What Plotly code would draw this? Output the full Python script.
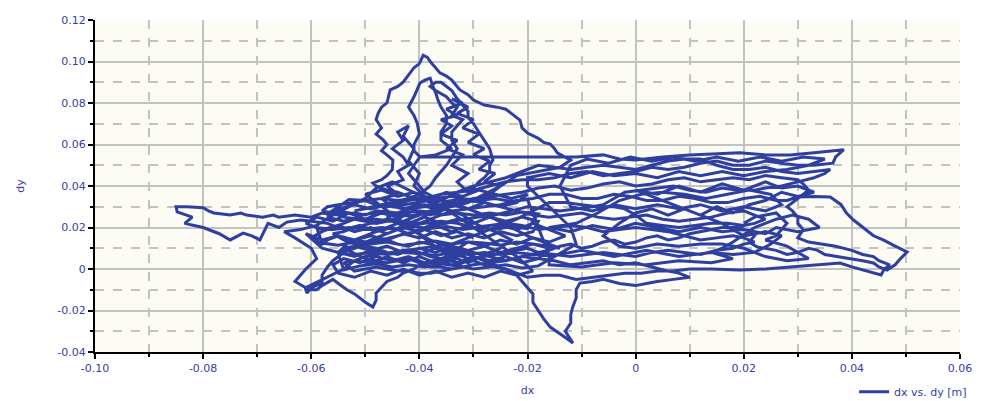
import plotly.graph_objects as go

# Trajectory, in metres, as (dx, dy) pairs, segment by segment.
seg_left_tail = [
 (-0.030,0.015),(-0.033,0.018),(-0.036,0.016),(-0.039,0.019),(-0.042,0.017),(-0.045,0.020),(-0.048,0.018),
 (-0.051,0.021),(-0.054,0.019),(-0.057,0.022),(-0.060,0.023),(-0.062,0.0236),(-0.0645,0.0226),(-0.066,0.020),
 (-0.068,0.022),(-0.0695,0.014),(-0.071,0.016),(-0.0726,0.0173),(-0.075,0.014),(-0.077,0.017),(-0.080,0.020),
 (-0.082,0.021),(-0.0834,0.022),(-0.082,0.025),(-0.0848,0.0275),(-0.085,0.030),(-0.083,0.030),(-0.080,0.0295),
 (-0.079,0.028),(-0.078,0.027),(-0.076,0.0265),(-0.075,0.026),(-0.073,0.027),(-0.072,0.026),(-0.069,0.025),
 (-0.067,0.026),(-0.066,0.025),(-0.063,0.026),(-0.060,0.025),(-0.058,0.027),(-0.056,0.026),(-0.052,0.027),
 (-0.050,0.026),(-0.048,0.028),(-0.044,0.027),(-0.040,0.028),(-0.036,0.027),
]
seg_peak_outer = [
 (-0.038,0.032),(-0.040,0.034),(-0.042,0.035),(-0.044,0.037),(-0.046,0.038),(-0.048,0.040),(-0.0486,0.0414),
 (-0.047,0.043),(-0.046,0.045),(-0.045,0.048),(-0.0449,0.0525),(-0.046,0.055),(-0.047,0.057),(-0.046,0.060),
 (-0.0467,0.0622),(-0.048,0.065),(-0.047,0.068),(-0.048,0.072),(-0.0476,0.0752),(-0.047,0.078),(-0.046,0.080),
 (-0.0454,0.0863),(-0.044,0.088),(-0.043,0.090),(-0.0417,0.0945),(-0.041,0.097),(-0.040,0.099),(-0.0393,0.103),
 (-0.0385,0.102),(-0.038,0.100),(-0.037,0.097),(-0.0362,0.0945),(-0.035,0.093),(-0.034,0.091),(-0.0325,0.0863),
 (-0.031,0.084),(-0.030,0.0814),(-0.028,0.079),(-0.0256,0.078),(-0.024,0.077),(-0.023,0.075),(-0.0214,0.0718),
 (-0.021,0.068),(-0.020,0.0655),(-0.018,0.063),(-0.017,0.061),(-0.0158,0.0602),(-0.015,0.058),(-0.0145,0.056),
 (-0.013,0.054),(-0.012,0.0525),(-0.014,0.049),(-0.016,0.048),(-0.018,0.047),(-0.020,0.046),(-0.022,0.045),
 (-0.025,0.040),(-0.028,0.036),(-0.031,0.032),(-0.034,0.030),
]
seg_peak_inner = [
 (-0.037,0.034),(-0.039,0.037),(-0.040,0.040),(-0.041,0.043),(-0.042,0.046),(-0.041,0.050),(-0.0399,0.054),
 (-0.041,0.057),(-0.041,0.060),(-0.040,0.065),(-0.0404,0.0703),(-0.041,0.074),(-0.042,0.078),(-0.041,0.083),
 (-0.0399,0.0896),(-0.039,0.091),(-0.038,0.092),(-0.0375,0.088),(-0.037,0.085),(-0.0365,0.081),(-0.036,0.078),
 (-0.035,0.074),(-0.035,0.070),(-0.036,0.066),(-0.036,0.062),(-0.035,0.060),(-0.034,0.058),(-0.037,0.055),
 (-0.040,0.054),(-0.033,0.054),(-0.025,0.054),(-0.018,0.054),(-0.011,0.054),(-0.006,0.055),(-0.003,0.053),
 (0.000,0.0525),(0.005,0.054),(0.010,0.055),(0.015,0.0555),(0.0193,0.056),(0.024,0.055),(0.0286,0.055),
 (0.033,0.056),(0.036,0.057),(0.0385,0.0575),(0.037,0.054),(0.0365,0.051),(0.033,0.050),(0.030,0.050),
 (0.027,0.051),(0.024,0.052),(0.021,0.050),(0.018,0.050),(0.015,0.052),(0.012,0.051),(0.009,0.049),
 (0.006,0.048),(0.003,0.049),(0.000,0.047),(-0.003,0.046),(-0.006,0.045),(-0.009,0.047),(-0.012,0.046),
 (-0.015,0.044),(-0.018,0.043),(-0.021,0.043),(-0.024,0.042),(-0.027,0.040),(-0.030,0.038),(-0.033,0.037),
 (-0.036,0.036),(-0.039,0.034),(-0.042,0.033),(-0.045,0.031),(-0.048,0.030),(-0.052,0.028),
]
seg_peak_middle = [
 (-0.045,0.032),(-0.042,0.034),(-0.040,0.036),(-0.038,0.040),(-0.037,0.044),(-0.036,0.047),(-0.035,0.050),
 (-0.034,0.054),(-0.033,0.058),(-0.034,0.062),(-0.034,0.066),(-0.033,0.069),(-0.032,0.072),(-0.034,0.074),
 (-0.033,0.078),(-0.034,0.080),(-0.035,0.083),(-0.037,0.086),(-0.038,0.088),(-0.037,0.090),(-0.036,0.090),
 (-0.034,0.086),(-0.033,0.082),(-0.032,0.079),(-0.031,0.076),(-0.031,0.073),(-0.030,0.070),(-0.029,0.066),
 (-0.028,0.062),(-0.027,0.058),(-0.0264,0.0525),(-0.027,0.050),(-0.027,0.047),(-0.028,0.044),(-0.029,0.042),
 (-0.030,0.039),(-0.031,0.037),
]
seg_peak_dense = [
 (-0.033,0.042),(-0.031,0.046),(-0.034,0.050),(-0.032,0.055),(-0.035,0.058),(-0.033,0.062),(-0.036,0.065),
 (-0.034,0.069),(-0.036,0.072),(-0.033,0.074),(-0.035,0.077),(-0.032,0.080),(-0.034,0.082),(-0.031,0.078),
 (-0.033,0.075),(-0.030,0.072),(-0.032,0.068),(-0.029,0.065),(-0.031,0.061),(-0.028,0.058),(-0.030,0.055),
 (-0.027,0.052),(-0.029,0.048),(-0.026,0.046),(-0.028,0.042),(-0.025,0.040),(-0.027,0.036),
 (-0.030,0.033),(-0.033,0.031),(-0.036,0.029),(-0.039,0.031),(-0.042,0.029),(-0.045,0.030),(-0.047,0.034),
 (-0.044,0.036),(-0.046,0.040),(-0.043,0.043),(-0.044,0.047),(-0.042,0.050),(-0.043,0.054),(-0.045,0.058),
 (-0.043,0.062),(-0.044,0.066),(-0.042,0.069),(-0.043,0.064),(-0.041,0.058),(-0.042,0.052),(-0.040,0.046),
 (-0.041,0.040),(-0.039,0.035),(-0.041,0.031),
]
seg_lower_left = [
 (-0.035,0.030),(-0.038,0.027),(-0.040,0.024),(-0.043,0.021),(-0.045,0.018),(-0.048,0.015),(-0.050,0.012),
 (-0.052,0.010),(-0.054,0.008),(-0.056,0.004),(-0.057,0.001),(-0.058,-0.003),(-0.058,-0.0068),(-0.060,-0.009),
 (-0.0608,-0.0116),(-0.061,-0.010),(-0.059,-0.010),(-0.058,-0.008),(-0.056,-0.005),(-0.055,-0.007),
 (-0.0534,-0.010),(-0.052,-0.012),(-0.051,-0.014),(-0.050,-0.016),(-0.0486,-0.0183),(-0.048,-0.015),
 (-0.048,-0.0116),(-0.047,-0.009),(-0.046,-0.006),(-0.044,-0.004),(-0.043,-0.002),(-0.041,0.000),
 (-0.040,0.002),(-0.038,0.003),(-0.036,0.004),(-0.034,0.002),(-0.032,0.003),(-0.030,0.005),(-0.028,0.006),
]
seg_right_lobe = [
 (-0.024,0.008),(-0.022,0.009),(-0.020,0.010),(-0.018,0.008),(-0.016,0.009),(-0.014,0.011),(-0.012,0.012),
 (-0.010,0.010),(-0.008,0.011),(-0.006,0.013),(-0.004,0.014),(-0.002,0.012),(0.000,0.013),(0.002,0.015),
 (0.004,0.016),(0.006,0.014),(0.008,0.015),(0.010,0.017),(0.012,0.018),(0.014,0.019),(0.016,0.020),
 (0.0193,0.020),(0.021,0.018),(0.022,0.016),(0.021,0.013),(0.0225,0.0106),(0.024,0.010),(0.026,0.009),
 (0.028,0.007),(0.030,0.008),(0.032,0.010),(0.0336,0.0091),(0.035,0.007),(0.0378,0.0058),(0.040,0.005),
 (0.042,0.004),(0.044,0.0029),(0.045,0.001),(0.0465,-0.0005),(0.048,0.002),(0.049,0.005),(0.0502,0.0082),
 (0.048,0.011),(0.0458,0.0140),(0.044,0.016),(0.042,0.020),(0.0403,0.0236),(0.039,0.027),(0.038,0.031),
 (0.036,0.0347),(0.033,0.035),(0.0299,0.0347),(0.028,0.033),(0.026,0.033),(0.023,0.035),(0.020,0.034),
 (0.017,0.032),(0.014,0.032),(0.011,0.034),(0.008,0.035),(0.005,0.033),(0.002,0.033),(-0.001,0.035),
 (-0.004,0.036),(-0.007,0.034),(-0.010,0.034),(-0.013,0.036),(-0.016,0.036),(-0.019,0.034),(-0.022,0.033),
 (-0.025,0.031),(-0.028,0.030),(-0.031,0.029),(-0.034,0.028),(-0.037,0.025),(-0.040,0.022),(-0.043,0.023),
 (-0.046,0.024),(-0.049,0.022),(-0.052,0.020),(-0.054,0.018),(-0.056,0.017),
]
seg_bottom_band = [
 (-0.054,0.014),(-0.052,0.012),(-0.050,0.011),(-0.048,0.010),(-0.046,0.008),(-0.044,0.007),(-0.042,0.009),
 (-0.040,0.008),(-0.038,0.006),(-0.036,0.005),(-0.034,0.007),(-0.032,0.006),(-0.030,0.004),(-0.028,0.002),
 (-0.026,0.001),(-0.024,0.000),(-0.022,-0.002),(-0.020,-0.004),(-0.017,-0.003),(-0.014,-0.003),(-0.011,-0.005),
 (-0.008,-0.004),(-0.005,-0.003),(-0.002,-0.002),(0.001,-0.002),(0.004,-0.001),(0.007,-0.001),(0.010,0.000),
 (0.014,0.000),(0.0193,-0.0005),(0.024,0.000),(0.0286,0.001),(0.033,0.002),(0.0378,0.0029),(0.040,0.001),
 (0.043,-0.001),(0.0454,-0.0029),(0.046,0.000),(0.047,0.002),(0.045,0.004),(0.044,0.006),(0.042,0.007),
 (0.040,0.009),(0.037,0.011),(0.034,0.012),(0.032,0.013),(0.030,0.015),(0.031,0.019),(0.030,0.022),
 (0.030,0.025),(0.029,0.028),(0.028,0.030),(0.030,0.034),(0.032,0.038),(0.031,0.041),(0.030,0.043),
 (0.027,0.044),(0.024,0.045),(0.021,0.043),(0.018,0.044),(0.015,0.043),(0.012,0.042),(0.009,0.044),
 (0.006,0.043),(0.003,0.041),(0.000,0.040),(-0.003,0.042),(-0.006,0.041),(-0.009,0.039),(-0.012,0.038),
 (-0.015,0.040),(-0.018,0.039),(-0.021,0.037),(-0.024,0.036),(-0.027,0.035),(-0.030,0.034),(-0.033,0.032),
 (-0.036,0.031),(-0.039,0.030),(-0.042,0.029),(-0.044,0.027),(-0.046,0.025),
]
seg_bottom_spike = [
 (-0.044,0.022),(-0.042,0.020),(-0.040,0.017),(-0.038,0.014),(-0.036,0.012),(-0.034,0.010),(-0.032,0.008),
 (-0.030,0.006),(-0.028,0.004),(-0.026,0.002),(-0.024,0.000),(-0.022,-0.003),(-0.021,-0.006),(-0.020,-0.0087),
 (-0.019,-0.012),(-0.019,-0.016),(-0.0177,-0.0213),(-0.017,-0.024),(-0.0158,-0.028),(-0.014,-0.031),
 (-0.013,-0.033),(-0.0116,-0.0357),(-0.012,-0.034),(-0.013,-0.030),(-0.012,-0.026),(-0.012,-0.022),
 (-0.0116,-0.018),(-0.011,-0.014),(-0.011,-0.010),(-0.0103,-0.0068),(-0.008,-0.006),(-0.006,-0.005),
 (-0.003,-0.007),(0.000,-0.008),(0.002,-0.007),(0.004,-0.006),(0.007,-0.005),(0.010,-0.004),(0.008,-0.002),
 (0.006,-0.001),(0.003,0.001),(0.000,0.003),(-0.003,0.002),(-0.006,0.004),(-0.009,0.003),(-0.012,0.002),
 (-0.015,0.004),(-0.018,0.005),(-0.021,0.006),(-0.024,0.004),(-0.027,0.006),(-0.030,0.008),(-0.033,0.009),
 (-0.036,0.010),(-0.038,0.012),(-0.040,0.013),(-0.042,0.011),(-0.044,0.012),(-0.046,0.014),(-0.048,0.015),
 (-0.050,0.013),(-0.052,0.014),(-0.054,0.015),(-0.055,0.016),(-0.057,0.014),(-0.058,0.012),(-0.060,0.015),
]
seg_upper_band = [
 (-0.058,0.018),(-0.056,0.020),(-0.054,0.022),(-0.052,0.024),(-0.050,0.023),(-0.048,0.022),(-0.046,0.023),
 (-0.044,0.024),(-0.042,0.027),(-0.040,0.030),(-0.038,0.031),(-0.036,0.033),(-0.033,0.037),(-0.030,0.040),
 (-0.027,0.042),(-0.024,0.044),(-0.021,0.047),(-0.018,0.050),(-0.015,0.049),(-0.012,0.048),(-0.009,0.049),
 (-0.006,0.050),(-0.003,0.049),(0.000,0.048),(0.003,0.050),(0.006,0.052),(0.009,0.053),(0.012,0.053),
 (0.015,0.050),(0.018,0.048),(0.021,0.048),(0.024,0.049),(0.027,0.047),(0.030,0.046),(0.033,0.047),
 (0.036,0.048),(0.035,0.046),(0.033,0.044),(0.030,0.042),(0.027,0.040),(0.024,0.039),(0.022,0.038),
 (0.019,0.038),(0.016,0.039),(0.013,0.037),(0.010,0.038),(0.007,0.040),(0.004,0.039),(0.001,0.038),
 (-0.002,0.037),(-0.004,0.034),(-0.006,0.031),(-0.008,0.030),(-0.011,0.029),(-0.014,0.028),(-0.017,0.029),
 (-0.020,0.030),(-0.023,0.028),(-0.026,0.026),(-0.029,0.025),(-0.032,0.024),(-0.035,0.022),(-0.038,0.021),
 (-0.041,0.018),(-0.044,0.016),(-0.047,0.014),(-0.050,0.013),(-0.052,0.011),(-0.054,0.010),
]
seg_core_rows = [
 (-0.050,0.005),(-0.048,0.004),(-0.046,0.003),(-0.044,0.004),(-0.042,0.005),(-0.040,0.003),(-0.038,0.001),
 (-0.036,0.001),(-0.034,0.000),(-0.032,0.001),(-0.030,0.002),(-0.027,0.003),(-0.024,0.004),(-0.021,0.006),
 (-0.018,0.008),(-0.015,0.007),(-0.012,0.006),(-0.009,0.007),(-0.006,0.008),(-0.003,0.007),(0.000,0.006),
 (0.003,0.008),(0.006,0.009),(0.009,0.008),(0.012,0.007),(0.015,0.009),(0.018,0.010),(0.020,0.012),
 (0.022,0.013),(0.020,0.015),(0.018,0.016),(0.015,0.015),(0.012,0.014),(0.009,0.016),(0.006,0.018),
 (0.003,0.019),(0.000,0.020),(-0.003,0.019),(-0.006,0.018),(-0.009,0.020),(-0.012,0.021),(-0.015,0.020),
 (-0.018,0.019),(-0.021,0.021),(-0.024,0.022),(-0.027,0.021),(-0.030,0.020),(-0.033,0.022),(-0.036,0.023),
 (-0.039,0.022),(-0.042,0.021),(-0.045,0.023),(-0.048,0.024),(-0.051,0.024),(-0.054,0.025),(-0.056,0.027),
 (-0.058,0.028),(-0.057,0.030),(-0.055,0.031),(-0.052,0.032),(-0.050,0.033),(-0.048,0.031),(-0.046,0.030),
 (-0.043,0.031),(-0.040,0.032),(-0.037,0.034),(-0.034,0.035),(-0.031,0.033),(-0.028,0.032),(-0.025,0.030),
 (-0.022,0.028),(-0.019,0.026),(-0.016,0.025),(-0.013,0.026),(-0.010,0.027),(-0.007,0.025),(-0.004,0.024),
 (-0.001,0.025),(0.002,0.026),(0.005,0.024),(0.008,0.023),(0.011,0.024),(0.014,0.025),(0.017,0.027),
 (0.020,0.028),(0.022,0.026),(0.024,0.024),(0.022,0.022),(0.020,0.021),(0.017,0.022),(0.014,0.022),
 (0.011,0.021),(0.008,0.020),(0.005,0.021),(0.002,0.022),(0.000,0.026),(-0.002,0.029),(-0.004,0.030),
 (-0.007,0.030),(-0.010,0.031),(-0.013,0.032),(-0.016,0.032),(-0.019,0.028),(-0.022,0.024),(-0.025,0.021),
 (-0.028,0.018),(-0.031,0.015),(-0.034,0.012),(-0.037,0.011),(-0.040,0.010),(-0.043,0.009),(-0.046,0.008),
 (-0.048,0.007),(-0.050,0.006),(-0.052,0.004),(-0.054,0.003),(-0.053,0.001),(-0.052,-0.001),(-0.050,0.000),
 (-0.048,0.001),(-0.046,0.000),(-0.044,-0.001),(-0.042,-0.001),(-0.040,-0.002),(-0.038,-0.002),
 (-0.036,-0.001),(-0.034,0.000),(-0.032,0.001),
]
seg_core_fill = [
 (-0.050,0.036),(-0.047,0.038),(-0.044,0.035),(-0.041,0.037),(-0.038,0.034),(-0.035,0.037),(-0.032,0.035),
 (-0.029,0.038),(-0.026,0.036),(-0.023,0.034),(-0.020,0.036),(-0.022,0.032),(-0.025,0.030),(-0.028,0.032),
 (-0.031,0.029),(-0.034,0.031),(-0.037,0.029),(-0.040,0.031),(-0.043,0.029),(-0.046,0.031),(-0.049,0.029),
 (-0.052,0.031),(-0.055,0.029),(-0.057,0.025),(-0.054,0.023),(-0.051,0.025),(-0.048,0.022),(-0.045,0.024),
 (-0.042,0.022),(-0.039,0.025),(-0.036,0.022),(-0.033,0.024),(-0.030,0.022),(-0.027,0.025),(-0.024,0.023),
 (-0.021,0.025),(-0.018,0.023),(-0.019,0.018),(-0.022,0.016),(-0.025,0.018),(-0.028,0.015),(-0.031,0.017),
 (-0.034,0.015),(-0.037,0.018),(-0.040,0.015),(-0.043,0.017),(-0.046,0.014),(-0.049,0.016),(-0.052,0.014),
 (-0.055,0.016),(-0.058,0.014),(-0.061,0.017),(-0.058,0.010),(-0.055,0.008),(-0.052,0.011),(-0.049,0.009),
 (-0.046,0.011),(-0.043,0.008),(-0.040,0.010),(-0.037,0.008),(-0.034,0.011),(-0.031,0.009),(-0.028,0.011),
 (-0.025,0.008),(-0.022,0.010),(-0.019,0.012),(-0.016,0.010),(-0.018,0.005),(-0.021,0.003),(-0.024,0.006),
 (-0.027,0.004),(-0.030,0.006),(-0.033,0.003),(-0.036,0.005),(-0.039,0.003),(-0.042,0.006),(-0.045,0.004),
 (-0.048,0.006),(-0.051,0.003),(-0.054,0.005),(-0.056,0.002),(-0.055,-0.002),(-0.052,-0.004),(-0.049,-0.001),
 (-0.046,-0.003),(-0.043,0.000),(-0.040,-0.003),(-0.037,-0.001),(-0.034,-0.004),(-0.031,-0.002),
 (-0.028,-0.004),(-0.025,-0.001),(-0.022,-0.003),(-0.019,-0.001),(-0.022,0.006),(-0.026,0.013),
 (-0.030,0.020),(-0.034,0.027),(-0.038,0.033),(-0.042,0.038),(-0.045,0.042),(-0.048,0.039),(-0.050,0.034),
 (-0.053,0.030),(-0.056,0.026),(-0.059,0.021),(-0.062,0.019),(-0.065,0.018),(-0.063,0.015),(-0.060,0.010),
 (-0.059,0.005),(-0.061,0.000),(-0.063,-0.006),(-0.061,-0.009),
]
seg_core_jitter = [
 (-0.057,-0.004),(-0.054,0.000),(-0.052,0.004),(-0.049,0.003),(-0.046,0.006),(-0.043,0.003),(-0.040,0.006),
 (-0.037,0.003),(-0.034,0.006),(-0.031,0.003),(-0.028,0.007),(-0.025,0.010),(-0.023,0.014),(-0.026,0.018),
 (-0.029,0.021),(-0.032,0.026),(-0.035,0.029),(-0.038,0.026),(-0.041,0.028),(-0.044,0.025),(-0.047,0.027),
 (-0.050,0.024),(-0.053,0.027),(-0.056,0.023),(-0.059,0.025),(-0.061,0.022),(-0.058,0.019),(-0.055,0.021),
 (-0.052,0.018),(-0.049,0.020),(-0.046,0.017),(-0.043,0.020),(-0.040,0.018),(-0.037,0.021),(-0.034,0.018),
 (-0.031,0.021),(-0.028,0.018),(-0.025,0.021),(-0.022,0.019),(-0.019,0.022),(-0.016,0.019),(-0.013,0.016),
 (-0.016,0.013),(-0.019,0.015),(-0.022,0.012),(-0.025,0.014),(-0.028,0.011),(-0.031,0.013),(-0.034,0.008),
 (-0.037,0.010),(-0.040,0.007),(-0.043,0.009),(-0.046,0.007),(-0.049,0.009),(-0.052,0.006),(-0.055,0.008),
 (-0.053,0.013),(-0.050,0.016),(-0.047,0.019),(-0.044,0.022),(-0.041,0.025),(-0.038,0.028),(-0.035,0.032),
 (-0.032,0.030),(-0.029,0.027),(-0.026,0.024),(-0.023,0.020),(-0.020,0.016),(-0.017,0.013),(-0.014,0.010),
]
seg_core_extra = [
 (-0.019,0.012),(-0.022,0.013),(-0.025,0.0115),(-0.028,0.0125),(-0.031,0.013),(-0.034,0.012),(-0.037,0.0135),
 (-0.040,0.0125),(-0.043,0.0115),(-0.046,0.013),(-0.049,0.012),(-0.052,0.013),(-0.055,0.0115),(-0.058,0.0125),
 (-0.059,0.020),(-0.056,0.019),(-0.053,0.020),(-0.050,0.019),(-0.047,0.020),(-0.044,0.019),(-0.041,0.0205),
 (-0.038,0.0195),(-0.035,0.0205),(-0.032,0.019),(-0.029,0.020),(-0.026,0.019),(-0.023,0.0205),(-0.020,0.0195),
 (-0.018,0.0265),(-0.021,0.0275),(-0.024,0.026),(-0.027,0.027),(-0.030,0.026),(-0.033,0.027),(-0.036,0.026),
 (-0.039,0.027),(-0.042,0.0255),(-0.045,0.0265),(-0.048,0.027),(-0.051,0.026),(-0.054,0.0275),(-0.057,0.0265),
 (-0.053,0.0335),(-0.050,0.033),(-0.047,0.034),(-0.044,0.033),(-0.041,0.034),(-0.038,0.0335),(-0.035,0.0325),
 (-0.032,0.034),(-0.029,0.033),(-0.026,0.034),(-0.023,0.0325),(-0.020,0.0335),
 (-0.016,0.0065),(-0.019,0.007),(-0.022,0.008),(-0.025,0.007),(-0.028,0.008),(-0.031,0.007),(-0.034,0.008),
 (-0.037,0.0065),(-0.040,0.0075),(-0.043,0.008),(-0.046,0.007),(-0.049,0.008),(-0.052,0.007),(-0.055,0.0075),
 (-0.054,-0.0005),(-0.051,0.0015),(-0.048,0.0025),(-0.045,0.001),(-0.042,0.002),(-0.039,0.001),(-0.036,0.0025),
 (-0.033,0.0015),(-0.030,0.000),(-0.027,0.001),(-0.024,0.002),(-0.021,0.0005),(-0.018,0.0015),
]
seg_mid_bands = [
 (-0.011,0.012),(-0.012,0.020),(-0.016,0.030),(-0.020,0.040),(-0.020,0.044),(-0.016,0.046),(-0.012,0.044),
 (-0.008,0.047),(-0.004,0.045),(0.000,0.046),(0.004,0.044),(0.008,0.047),(0.012,0.045),(0.016,0.047),
 (0.020,0.045),(0.024,0.047),(0.028,0.048),(0.032,0.050),(0.035,0.053),(0.031,0.054),(0.027,0.052),
 (0.023,0.054),(0.019,0.052),(0.015,0.054),(0.011,0.052),(0.007,0.054),(0.003,0.052),(-0.001,0.054),
 (-0.005,0.051),(-0.009,0.053),(-0.012,0.050),(-0.014,0.040),(-0.012,0.030),(-0.008,0.028),(-0.004,0.031),
 (0.000,0.029),(0.004,0.031),(0.008,0.029),(0.012,0.031),(0.016,0.028),(0.020,0.030),(0.024,0.028),
 (0.027,0.031),(0.025,0.036),(0.021,0.038),(0.017,0.036),(0.013,0.034),(0.009,0.036),(0.005,0.037),
 (0.001,0.036),(-0.003,0.033),(-0.007,0.027),(-0.011,0.022),(-0.016,0.020),(-0.012,0.018),(-0.008,0.021),
 (-0.004,0.019),(0.000,0.022),(0.004,0.020),(0.008,0.018),(0.012,0.020),(0.016,0.018),(0.020,0.019),
 (0.024,0.017),(0.026,0.020),(0.030,0.018),(0.034,0.020),(0.032,0.024),(0.029,0.026),(0.026,0.024),
 (0.022,0.020),(0.018,0.013),(0.016,0.010),(0.014,0.008),(0.018,0.005),(0.014,0.003),(0.008,0.004),
 (0.002,0.002),(-0.004,0.003),(-0.010,0.001),(-0.016,0.002),(-0.016,0.006),(-0.010,0.009),(-0.004,0.006),
 (0.002,0.009),(0.008,0.006),(0.014,0.008),(0.018,0.007),(0.022,0.008),(0.025,0.012),(0.027,0.016),
 (0.024,0.018),(0.020,0.016),
]
seg_right_tangle = [
 (0.016,0.022),(0.012,0.026),(0.008,0.030),(0.004,0.034),(0.000,0.038),(0.004,0.036),(0.008,0.040),
 (0.012,0.037),(0.016,0.041),(0.020,0.038),(0.024,0.042),(0.027,0.039),(0.030,0.040),(0.033,0.037),
 (0.030,0.035),(0.027,0.037),(0.024,0.033),(0.021,0.031),(0.018,0.027),(0.015,0.030),(0.012,0.026),
 (0.009,0.029),(0.006,0.026),(0.003,0.029),(0.000,0.027),(-0.003,0.022),(-0.006,0.016),(-0.003,0.011),
 (0.000,0.010),(0.004,0.012),(0.008,0.011),(0.012,0.012),(0.016,0.012),(0.020,0.010),(0.024,0.006),
 (0.028,0.004),(0.032,0.005),(0.028,0.011),(0.024,0.014),(0.026,0.016),(0.028,0.022),(0.026,0.027),
 (0.022,0.025),(0.020,0.022),
]

segments = [seg_left_tail, seg_peak_outer, seg_peak_inner, seg_peak_middle, seg_peak_dense,
            seg_lower_left, seg_right_lobe, seg_bottom_band, seg_bottom_spike, seg_upper_band,
            seg_core_rows, seg_core_fill, seg_core_jitter, seg_core_extra, seg_mid_bands,
            seg_right_tangle]
dx = [p[0] for seg in segments for p in seg]
dy = [p[1] for seg in segments for p in seg]

x_ticks = [-0.10, -0.08, -0.06, -0.04, -0.02, 0, 0.02, 0.04, 0.06]
x_tick_text = ["-0.10", "-0.08", "-0.06", "-0.04", "-0.02", "0", "0.02", "0.04", "0.06"]
y_ticks = [-0.04, -0.02, 0, 0.02, 0.04, 0.06, 0.08, 0.10, 0.12]
y_tick_text = ["-0.04", "-0.02", "0", "0.02", "0.04", "0.06", "0.08", "0.10", "0.12"]

blue = "#2e3fa0"
label_blue = "#3540a5"
grid = "#c3c3c3"
font_family = "DejaVu Sans"

fig = go.Figure()
fig.add_trace(go.Scatter(x=dx, y=dy, mode="lines", name="dx vs. dy [m]",
                         line=dict(color=blue, width=3)))

axis_common = dict(
    showline=True, linecolor="black", linewidth=2, mirror=False, automargin=False,
    ticks="outside", ticklen=5, tickcolor="black", tickwidth=1.5,
    showgrid=True, gridcolor=grid, gridwidth=1.8, zeroline=False,
    tickfont=dict(family=font_family, size=11, color=label_blue),
)
fig.update_xaxes(range=[-0.10, 0.06], tickvals=x_ticks, ticktext=x_tick_text,
                 title=dict(text="dx", font=dict(family=font_family, size=11, color=label_blue), standoff=12),
                 minor=dict(dtick=0.01, tick0=-0.09, showgrid=True, gridcolor=grid, griddash="dash",
                            gridwidth=1.8, ticks="outside", ticklen=3, tickcolor="black"),
                 **axis_common)
fig.update_yaxes(range=[-0.04, 0.12], tickvals=y_ticks, ticktext=y_tick_text,
                 title=dict(text="dy", font=dict(family=font_family, size=11, color=label_blue), standoff=30),
                 minor=dict(dtick=0.01, tick0=-0.03, showgrid=True, gridcolor=grid, griddash="dash",
                            gridwidth=1.8, ticks="outside", ticklen=3, tickcolor="black"),
                 **axis_common)

# the page adds an 8 px body margin, so the figure is sized to fit inside the window
fig.update_layout(
    width=974, height=393, autosize=False,
    margin=dict(l=87, r=22, t=12, b=49, autoexpand=False),
    paper_bgcolor="white", plot_bgcolor="#fcfbf4",
    showlegend=True,
    legend=dict(x=1.014, y=-0.12, xanchor="right", yanchor="middle",
                font=dict(family=font_family, size=11, color=label_blue),
                bgcolor="rgba(0,0,0,0)", itemwidth=30, borderwidth=0),
)

fig.write_html("out.html")
